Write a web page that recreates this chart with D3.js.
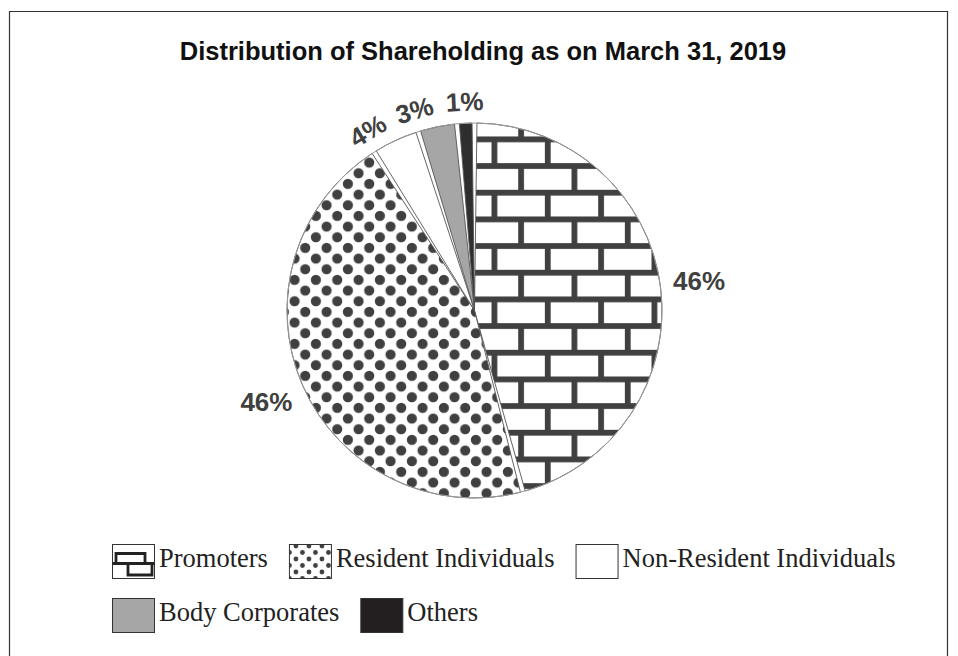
<!DOCTYPE html>
<html>
<head>
<meta charset="utf-8">
<script src="https://cdn.jsdelivr.net/npm/d3@7"></script>
<style>
  body { margin: 0; background: #fff; }
  svg { display: block; }
</style>
</head>
<body>
<svg id="chart" width="958" height="656"></svg>
<script>
var title = "Distribution of Shareholding as on March 31, 2019";
var categories = ["Promoters", "Resident Individuals", "Non-Resident Individuals", "Body Corporates", "Others"];
var shares = [46.4, 45.7, 3.8, 3.0, 1.1];
var labels = ["46%", "46%", "4%", "3%", "1%"];

var cx = 474.5, cy = 310.5, radius = 187.5,
    ink = "#404040",
    fills = ["url(#bricks)", "url(#dots)", "#fff", "#a6a6a6", "#2e2e2e"],
    swatchFills = ["#fff", "url(#dots-small)", "#fff", "#a6a6a6", "#231f20"];

var svg = d3.select("#chart");
var defs = svg.append("defs");

//
// fill patterns
var bw = 53.33, bh = 26.67, mortar = 5.8;
var bricks = defs.append("pattern")
  .attr("id", "bricks").attr("patternUnits", "userSpaceOnUse")
  .attr("x", 497).attr("y", 146).attr("width", bw).attr("height", bh * 2);
bricks.append("rect").attr("width", bw).attr("height", bh * 2).attr("fill", "#fff");
[[0, 0, bw, mortar], [0, bh, bw, mortar], [0, 0, mortar, bh], [bw / 2, bh, mortar, bh]]
  .forEach(function(r) {
    bricks.append("rect").attr("x", r[0]).attr("y", r[1])
      .attr("width", r[2]).attr("height", r[3]).attr("fill", ink);
  });

function dotPattern(id, size, r, x0, y0) {
  var p = defs.append("pattern")
    .attr("id", id).attr("patternUnits", "userSpaceOnUse")
    .attr("x", x0).attr("y", y0).attr("width", size).attr("height", size);
  p.append("rect").attr("width", size).attr("height", size).attr("fill", "#fff");
  [[0, 0], [size, 0], [0, size], [size, size], [size / 2, size / 2]].forEach(function(c) {
    p.append("circle").attr("cx", c[0]).attr("cy", c[1]).attr("r", r).attr("fill", ink);
  });
}
dotPattern("dots", 21.33, 5.1, 300, 300);
dotPattern("dots-small", 13, 2.4, 293, 548);

//
// frame + title
svg.append("path")
  .attr("d", "M9.5,656V11.5H947.5V656")
  .attr("fill", "none").attr("stroke", "#333").attr("stroke-width", 1.2);

svg.append("text")
  .attr("x", 483).attr("y", 60)
  .attr("text-anchor", "middle")
  .style("font", "bold 25.5px 'Liberation Sans', Arial, sans-serif")
  .attr("fill", "#111")
  .text(title);

//
// pie
var pie = d3.pie().sort(null).value(function(d) { return d; }).padAngle(1.5 * Math.PI / 180),
    arcs = pie(shares),
    arc = d3.arc().innerRadius(0).outerRadius(radius);

var chart = svg.append("g").attr("transform", "translate(" + cx + "," + cy + ")");

chart.selectAll("path.slice")
  .data(arcs)
  .enter().append("path")
  .attr("class", "slice")
  .attr("d", arc)
  .attr("fill", function(d, i) { return fills[i]; })
  .attr("stroke", "#555")
  .attr("stroke-width", 0.9);

chart.append("circle")
  .attr("r", radius)
  .attr("fill", "none").attr("stroke", "#999").attr("stroke-width", 1);

//
// labels, small ones spread apart and turned along the rim
var gap = 12, minSep = 14 * Math.PI / 180,
    angles = arcs.map(function(d) { return (d.startAngle + d.endAngle) / 2; });
for (var i = arcs.length - 2; i >= 0; i--) {
  if (shares[i] < 10 && angles[i] > angles[i + 1] - minSep) angles[i] = angles[i + 1] - minSep;
}

labels.forEach(function(txt, i) {
  var a = angles[i],
      t = chart.append("text")
        .attr("text-anchor", "middle")
        .attr("dy", "0.35em")
        .attr("fill", ink)
        .style("font", "bold 26px 'Liberation Sans', Arial, sans-serif")
        .text(txt),
      w = t.node().getComputedTextLength(), h = 19,
      small = shares[i] < 10,
      ext = small ? h / 2 : Math.abs(w / 2 * Math.sin(a)) + Math.abs(h / 2 * Math.cos(a)),
      R = radius + gap + ext,
      x = R * Math.sin(a), y = -R * Math.cos(a);
  t.attr("transform", "translate(" + x + "," + y + ")" + (small ? " rotate(" + (a * 180 / Math.PI) + ")" : ""));
});

//
// legend, flowed left to right and wrapped
var lx = 112, ly = 544, sw = 42, sh = 34, rowH = 54, right = 940;
categories.forEach(function(name, i) {
  var g = svg.append("g").attr("class", "legend-item");
  g.append("rect")
    .attr("x", 0.5).attr("y", 0.5).attr("width", sw).attr("height", sh)
    .attr("fill", swatchFills[i]).attr("stroke", "#333").attr("stroke-width", 1);
  if (i === 0) {
    // small brick glyph
    g.append("path")
      .attr("d", "M4,9.5H33V19.5H4Z M0.5,19.5H42.5 M16,19.5V31H40V19.5")
      .attr("fill", "none").attr("stroke", "#222").attr("stroke-width", 2.8);
  }
  var t = g.append("text")
    .attr("x", sw + 5).attr("y", 23)
    .attr("fill", "#222")
    .style("font", "26.5px 'Liberation Serif', 'Times New Roman', serif")
    .text(name);
  var w = sw + 5 + t.node().getComputedTextLength();
  if (lx + w > right) { lx = 112; ly += rowH; }
  g.attr("transform", "translate(" + lx + "," + ly + ")");
  lx += w + 21;
});
</script>
</body>
</html>
